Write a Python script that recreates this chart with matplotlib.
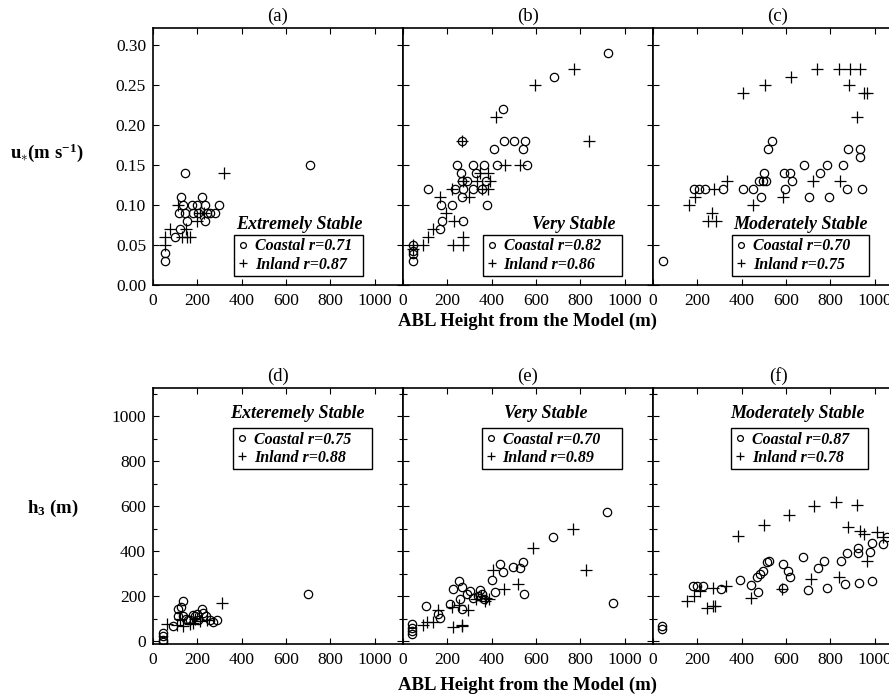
import numpy as np
import matplotlib.pyplot as plt

plt.rcParams['font.family'] = ['Liberation Serif', 'DejaVu Serif']
plt.rcParams['mathtext.fontset'] = 'custom'
plt.rcParams['mathtext.rm'] = 'Liberation Serif:bold'
plt.rcParams['mathtext.it'] = 'Liberation Serif:bold'
plt.rcParams['mathtext.bf'] = 'Liberation Serif:bold'

# ---- data ----
# (a) u* extremely stable
a_coast_x = [709, 144, 126, 223, 298, 137, 175, 197, 235, 119, 144, 182, 205, 242, 257, 280, 152, 235, 122, 99, 54, 54]
a_coast_y = [0.15, 0.14, 0.11, 0.11, 0.10, 0.10, 0.10, 0.10, 0.10, 0.09, 0.09, 0.09, 0.09, 0.09, 0.09, 0.09, 0.08, 0.08, 0.07, 0.06, 0.04, 0.03]
a_inl_x = [322, 114, 212, 77, 54, 54, 129, 152, 147, 197, 230, 165]
a_inl_y = [0.14, 0.10, 0.09, 0.07, 0.06, 0.05, 0.06, 0.06, 0.07, 0.08, 0.09, 0.06]

# (b) u* very stable
b_coast_x = [927, 683, 450, 457, 503, 551, 412, 540, 242, 315, 367, 423, 558, 262, 330, 265, 288, 375, 114, 235,
             272, 315, 355, 265, 172, 220, 378, 175, 269, 168, 44, 44, 44, 44, 265]
b_coast_y = [0.29, 0.26, 0.22, 0.18, 0.18, 0.18, 0.17, 0.17, 0.15, 0.15, 0.15, 0.15, 0.15, 0.14, 0.14, 0.13, 0.13, 0.13, 0.12, 0.12,
             0.12, 0.12, 0.12, 0.11, 0.10, 0.10, 0.10, 0.08, 0.08, 0.07, 0.05, 0.043, 0.039, 0.03, 0.18]
b_inl_x = [772, 596, 418, 837, 460, 528, 348, 385, 272, 333, 393, 220, 355, 385, 167, 298, 194, 232, 134, 114,
           227, 272, 272, 92, 47, 47, 265]
b_inl_y = [0.27, 0.25, 0.21, 0.18, 0.15, 0.15, 0.14, 0.14, 0.13, 0.13, 0.13, 0.12, 0.12, 0.12, 0.11, 0.11, 0.09, 0.08, 0.07, 0.06,
           0.05, 0.05, 0.06, 0.05, 0.05, 0.045, 0.18]

# (c) u* moderately stable
c_coast_x = [44, 536, 521, 882, 932, 932, 683, 784, 859, 503, 593, 619, 754, 480, 498, 626, 185, 208, 235, 317,
             405, 450, 596, 874, 942, 486, 706, 796, 512]
c_coast_y = [0.03, 0.18, 0.17, 0.17, 0.17, 0.16, 0.15, 0.15, 0.15, 0.14, 0.14, 0.14, 0.14, 0.13, 0.13, 0.13, 0.12, 0.12, 0.12, 0.12,
             0.12, 0.12, 0.12, 0.12, 0.12, 0.11, 0.11, 0.11, 0.13]
c_inl_x = [739, 837, 889, 932, 623, 506, 886, 405, 950, 965, 920, 335, 721, 844, 277, 588, 450, 164, 190, 265, 250, 284]
c_inl_y = [0.27, 0.27, 0.27, 0.27, 0.26, 0.25, 0.25, 0.24, 0.24, 0.24, 0.21, 0.13, 0.13, 0.13, 0.12, 0.11, 0.10, 0.10, 0.11, 0.09, 0.08, 0.08]

# (d) h3 extremely stable
d_coast_x = [701, 134, 114, 220, 227, 190, 137, 114, 167, 205, 257, 272, 290, 92, 44, 44, 44, 44, 150, 180, 240, 125, 160, 200]
d_coast_y = [210, 180, 141, 141, 126, 112, 112, 112, 92, 92, 92, 85, 95, 67, 37, 22, 7, -5, 100, 115, 110, 150, 95, 120]
d_inl_x = [310, 65, 107, 137, 167, 212, 242, 120, 190, 180]
d_inl_y = [171, 77, 70, 65, 75, 90, 95, 100, 100, 80]

# (e) h3 very stable
e_coast_x = [920, 676, 540, 495, 450, 438, 528, 400, 415, 546, 947, 254, 265, 227, 302, 348, 355, 317, 257, 265,
             212, 167, 104, 158, 367, 39, 39, 39, 39, 340, 290]
e_coast_y = [575, 461, 350, 330, 305, 342, 324, 271, 219, 208, 168, 268, 241, 231, 223, 226, 208, 193, 186, 141,
             164, 104, 155, 120, 186, 74, 60, 45, 30, 200, 210]
e_inl_x = [766, 588, 826, 408, 456, 521, 294, 251, 221, 160, 107, 92, 137, 227, 265, 265, 370, 375, 330, 390, 350]
e_inl_y = [500, 412, 316, 316, 231, 253, 140, 160, 150, 140, 85, 70, 85, 62, 67, 72, 178, 193, 185, 185, 200]

# (f) h3 moderately stable
f_coast_x = [39, 39, 179, 200, 227, 307, 393, 442, 475, 468, 483, 498, 513, 525, 588, 607, 618, 585, 676, 698,
             746, 773, 787, 849, 874, 927, 927, 977, 990, 1037, 1055, 867, 931, 987]
f_coast_y = [55, 65, 245, 245, 245, 233, 271, 249, 216, 283, 298, 313, 350, 357, 342, 313, 283, 238, 372, 229,
             324, 357, 238, 357, 390, 414, 390, 397, 434, 432, 461, 253, 258, 268]
f_inl_x = [385, 501, 615, 727, 826, 919, 882, 934, 954, 1012, 1040, 965, 840, 713, 581, 441, 330, 270, 212, 185,
           152, 245, 270, 280]
f_inl_y = [469, 516, 562, 600, 617, 606, 506, 488, 476, 483, 461, 354, 287, 275, 231, 193, 246, 235, 223, 201,
           179, 149, 156, 156]

panel_tags = ['(a)', '(b)', '(c)', '(d)', '(e)', '(f)']
class_names = ['Extremely Stable', 'Very Stable', 'Moderately Stable',
               'Exteremely Stable', 'Very Stable', 'Moderately Stable']
r_coast = ['0.71', '0.82', '0.70', '0.75', '0.70', '0.87']
r_inl = ['0.87', '0.86', '0.75', '0.88', '0.89', '0.78']

coast = [(a_coast_x, a_coast_y), (b_coast_x, b_coast_y), (c_coast_x, c_coast_y),
         (d_coast_x, d_coast_y), (e_coast_x, e_coast_y), (f_coast_x, f_coast_y)]
inland = [(a_inl_x, a_inl_y), (b_inl_x, b_inl_y), (c_inl_x, c_inl_y),
          (d_inl_x, d_inl_y), (e_inl_x, e_inl_y), (f_inl_x, f_inl_y)]

# ---- layout ----
W, H = 889, 695
fig = plt.figure(figsize=(W / 100, H / 100), dpi=100)

lefts = [153, 403, 653]
pw = 250
rows = [(28, 285), (388, 644)]

# legend box (x0, width) and class-name centre, axes fraction
leg_x = [(0.324, 0.516), (0.319, 0.556), (0.317, 0.548), (0.321, 0.555), (0.315, 0.560), (0.312, 0.549)]
name_x = [0.587, 0.683, 0.588, 0.577, 0.573, 0.576]

for i in range(6):
    r, c = divmod(i, 3)
    top, bot = rows[r]
    ax = fig.add_axes([lefts[c] / W, 1 - bot / H, pw / W, (bot - top) / H])

    cx, cy = coast[i]
    ix, iy = inland[i]
    h1, = ax.plot(cx, cy, ls='none', marker='o', mfc='none', mec='k', ms=6, mew=0.9)
    h2, = ax.plot(ix, iy, ls='none', marker='+', color='k', ms=8, mew=0.9)

    ax.set_xlim(0, 1128)
    ax.set_xticks(np.arange(0, 1001, 200))
    if r == 0:
        ax.set_ylim(0, 0.321)
        ax.set_yticks(np.arange(0, 0.31, 0.05))
        ax.set_yticklabels(['%.2f' % v for v in np.arange(0, 0.31, 0.05)])
    else:
        ax.set_ylim(-13, 1125)
        ax.set_yticks(np.arange(0, 1001, 200))
        ax.set_yticks(np.arange(100, 1101, 200), minor=True)
    if c > 0:
        ax.set_yticklabels([])

    ax.tick_params(direction='in', top=True, right=True, length=4, width=0.8, labelsize=12.5, pad=6)
    ax.tick_params(axis='y', pad=5)
    ax.tick_params(which='minor', direction='in', right=True, left=True, length=3, width=0.8)
    for s in ax.spines.values():
        s.set_linewidth(1.2)

    ax.set_title(panel_tags[i], fontsize=13.5, pad=5)

    if r == 0:
        bb = (leg_x[i][0], 0.035, leg_x[i][1], 0.3)
        loc = 'lower left'
        ny = 0.237
    else:
        bb = (leg_x[i][0], 0.4, leg_x[i][1], 0.442)
        loc = 'upper left'
        ny = 0.90
    leg = ax.legend([h1, h2], ['Coastal r=' + r_coast[i], 'Inland r=' + r_inl[i]],
                    loc=loc, bbox_to_anchor=bb, mode='expand', borderaxespad=0,
                    prop={'weight': 'bold', 'style': 'italic', 'size': 11.5},
                    frameon=True, fancybox=False, edgecolor='k', framealpha=1,
                    handlelength=0.7, handletextpad=0.4, labelspacing=0.15,
                    borderpad=0.2, markerscale=0.7)
    leg.get_frame().set_linewidth(1.0)
    ax.text(name_x[i], ny, class_names[i], transform=ax.transAxes, ha='center', va='center',
            fontsize=13, fontweight='bold', style='italic')

fig.text(527 / W, 1 - 321 / H, 'ABL Height from the Model (m)', ha='center', va='center',
         fontsize=13.5, fontweight='bold')
fig.text(527 / W, 1 - 685 / H, 'ABL Height from the Model (m)', ha='center', va='center',
         fontsize=13.5, fontweight='bold')
fig.text(47 / W, 1 - 153 / H, r'u$_{\ast}$(m s$^{-1}$)', ha='center', va='center',
         fontsize=13.5, fontweight='bold')
fig.text(53 / W, 1 - 508 / H, r'h$_{3}$ (m)', ha='center', va='center',
         fontsize=13.5, fontweight='bold')

fig.savefig('out.png', dpi=100)
